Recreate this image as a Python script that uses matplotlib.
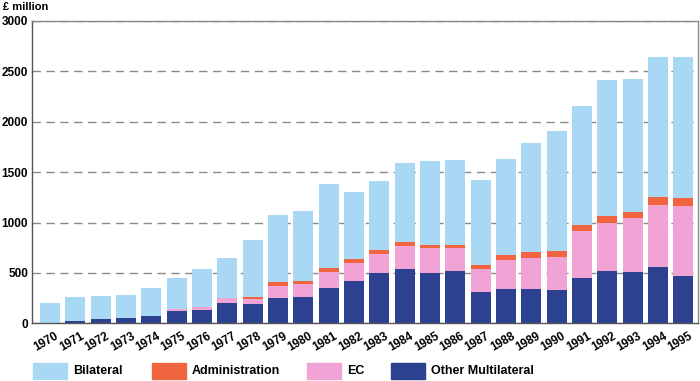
import numpy as np
import matplotlib.pyplot as plt
from matplotlib.patches import Rectangle
from matplotlib.transforms import ScaledTranslation

years = [str(y) for y in range(1970, 1996)]

# values in £ million (stacked bottom to top)
other_multilateral = [8, 27, 40, 53, 75, 122, 132, 201, 195, 254, 261, 353, 419, 495,
                      538, 502, 518, 313, 340, 343, 327, 452, 515, 508, 558, 472]
ec = [0, 0, 0, 0, 0, 26, 30, 50, 48, 122, 125, 152, 175, 192,
      231, 241, 228, 222, 287, 307, 327, 463, 479, 539, 614, 693]
administration = [0, 0, 0, 0, 0, 0, 0, 0, 23, 30, 33, 40, 40, 39,
                  37, 36, 30, 43, 50, 54, 62, 56, 66, 59, 77, 74]
total = [203, 266, 274, 280, 353, 449, 538, 644, 825, 1073, 1116, 1377, 1301, 1407,
         1589, 1612, 1618, 1417, 1628, 1790, 1906, 2153, 2411, 2418, 2642, 2636]
bilateral = [t - o - e - a for t, o, e, a in zip(total, other_multilateral, ec, administration)]

c_bil = '#a9d8f5'
c_adm = '#f0643f'
c_ec = '#f2a3d6'
c_oth = '#2c4190'

plt.rcParams['font.family'] = ['Liberation Sans', 'DejaVu Sans']

W, H = 700, 381
fig = plt.figure(figsize=(W / 100, H / 100), dpi=100)
ax = fig.add_axes([0.046, 0.151, 0.951, 0.795])

x = np.arange(len(years))
w = 0.79
b1 = np.array(other_multilateral)
b2 = b1 + np.array(ec)
b3 = b2 + np.array(administration)
ax.bar(x, other_multilateral, w, color=c_oth, zorder=2)
ax.bar(x, ec, w, bottom=b1, color=c_ec, zorder=2)
ax.bar(x, administration, w, bottom=b2, color=c_adm, zorder=2)
ax.bar(x, bilateral, w, bottom=b3, color=c_bil, zorder=2)

ax.set_xlim(-0.70, 25.57)
ax.set_ylim(0, 3000)
ax.set_yticks(range(0, 3001, 500))
ax.set_yticklabels([str(v) for v in range(0, 3001, 500)], fontsize=8.5, fontweight='bold')
ax.yaxis.grid(True, linestyle=(0, (6, 4)), color='#8a8a8a', linewidth=1.0, zorder=0)
ax.set_xticks(x)
ax.set_xticklabels(years, rotation=30, fontsize=8.5, fontweight='bold',
                   ha='right', rotation_mode='anchor')
ax.tick_params(axis='both', length=0)
ax.tick_params(axis='y', pad=3)
ax.tick_params(axis='x', pad=5)
shift = ScaledTranslation(5 / 100, 0, fig.dpi_scale_trans)
for lbl in ax.get_xticklabels():
    lbl.set_transform(lbl.get_transform() + shift)
for s in ax.spines.values():
    s.set_color('#888888')
    s.set_linewidth(1.0)
ax.spines['left'].set_color('#555555')
ax.spines['bottom'].set_color('#555555')

fig.text(3 / W, 1 - 7 / H, '£ million', fontsize=8, fontweight='bold', va='center')

# legend drawn along the bottom, like the original
labels = ['Bilateral', 'Administration', 'EC', 'Other Multilateral']
colors = [c_bil, c_adm, c_ec, c_oth]
starts = [33, 152, 307, 391]
for lab, col, sx in zip(labels, colors, starts):
    fig.add_artist(Rectangle((sx / W, 1 - 379 / H), 34 / W, 16 / H,
                             transform=fig.transFigure, color=col))
    fig.text((sx + 40) / W, 1 - 371.5 / H, lab, fontsize=9, fontweight='bold',
             va='center', ha='left')

fig.savefig('out.png', dpi=100)
